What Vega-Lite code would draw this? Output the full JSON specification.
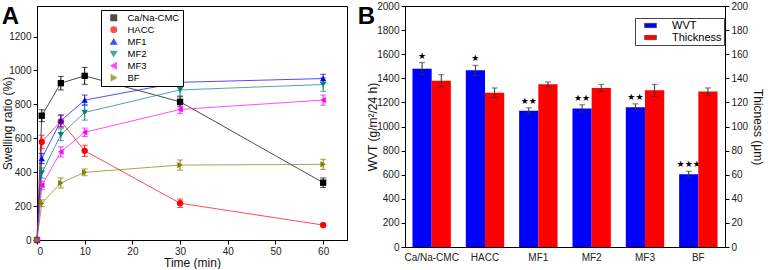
{
  "$schema": "https://vega.github.io/schema/vega-lite/v6.json",
  "padding": {"left": 1, "top": 0, "right": 1, "bottom": 0},
  "spacing": 9,
  "resolve": {"scale": {"color": "independent", "shape": "independent"}, "legend": {"color": "independent", "shape": "independent"}},
  "config": {
    "font": "Liberation Sans",
    "view": {"stroke": "black", "strokeWidth": 1},
    "axis": {"labelFont": "Liberation Sans", "titleFont": "Liberation Sans", "labelFontSize": 10, "titleFontSize": 12, "titleFontWeight": "normal", "labelColor": "#222", "titleColor": "#111", "domainColor": "black", "tickColor": "black", "grid": false, "tickSize": 4, "labelPadding": 2, "labelOverlap": false},
    "axisQuantitative": {"format": "d"},
    "legend": {"labelFont": "Liberation Sans"}
  },
  "datasets": {
    "swell": [
      {"t": 0, "v": 0, "e": 0, "s": "Ca/Na-CMC"},
      {"t": 1, "v": 733, "e": 35, "s": "Ca/Na-CMC"},
      {"t": 5, "v": 925, "e": 40, "s": "Ca/Na-CMC"},
      {"t": 10, "v": 968, "e": 50, "s": "Ca/Na-CMC"},
      {"t": 30, "v": 815, "e": 30, "s": "Ca/Na-CMC"},
      {"t": 60, "v": 338, "e": 28, "s": "Ca/Na-CMC"},
      {"t": 0, "v": 0, "e": 0, "s": "HACC"},
      {"t": 1, "v": 578, "e": 40, "s": "HACC"},
      {"t": 5, "v": 700, "e": 35, "s": "HACC"},
      {"t": 10, "v": 526, "e": 33, "s": "HACC"},
      {"t": 30, "v": 217, "e": 25, "s": "HACC"},
      {"t": 60, "v": 88, "e": 10, "s": "HACC"},
      {"t": 0, "v": 0, "e": 0, "s": "MF1"},
      {"t": 1, "v": 481, "e": 30, "s": "MF1"},
      {"t": 5, "v": 703, "e": 35, "s": "MF1"},
      {"t": 10, "v": 825, "e": 30, "s": "MF1"},
      {"t": 30, "v": 930, "e": 28, "s": "MF1"},
      {"t": 60, "v": 952, "e": 25, "s": "MF1"},
      {"t": 0, "v": 0, "e": 0, "s": "MF2"},
      {"t": 1, "v": 395, "e": 30, "s": "MF2"},
      {"t": 5, "v": 621, "e": 35, "s": "MF2"},
      {"t": 10, "v": 752, "e": 45, "s": "MF2"},
      {"t": 30, "v": 885, "e": 35, "s": "MF2"},
      {"t": 60, "v": 917, "e": 40, "s": "MF2"},
      {"t": 0, "v": 0, "e": 0, "s": "MF3"},
      {"t": 1, "v": 322, "e": 25, "s": "MF3"},
      {"t": 5, "v": 520, "e": 30, "s": "MF3"},
      {"t": 10, "v": 635, "e": 25, "s": "MF3"},
      {"t": 30, "v": 770, "e": 25, "s": "MF3"},
      {"t": 60, "v": 825, "e": 30, "s": "MF3"},
      {"t": 0, "v": 0, "e": 0, "s": "BF"},
      {"t": 1, "v": 217, "e": 20, "s": "BF"},
      {"t": 5, "v": 336, "e": 30, "s": "BF"},
      {"t": 10, "v": 399, "e": 20, "s": "BF"},
      {"t": 30, "v": 442, "e": 30, "s": "BF"},
      {"t": 60, "v": 446, "e": 30, "s": "BF"}
    ],
    "bars": [
      {"sample": "Ca/Na-CMC", "series": "WVT", "value": 1480, "lo": 1430, "hi": 1530, "stars": "★"},
      {"sample": "HACC", "series": "WVT", "value": 1466, "lo": 1422, "hi": 1508, "stars": "★"},
      {"sample": "MF1", "series": "WVT", "value": 1131, "lo": 1107, "hi": 1155, "stars": "★★"},
      {"sample": "MF2", "series": "WVT", "value": 1150, "lo": 1120, "hi": 1180, "stars": "★★"},
      {"sample": "MF3", "series": "WVT", "value": 1160, "lo": 1132, "hi": 1188, "stars": "★★"},
      {"sample": "BF", "series": "WVT", "value": 603, "lo": 580, "hi": 628, "stars": "★★★"},
      {"sample": "Ca/Na-CMC", "series": "Thickness", "value": 138, "lo": 133, "hi": 143},
      {"sample": "HACC", "series": "Thickness", "value": 128, "lo": 124, "hi": 132},
      {"sample": "MF1", "series": "Thickness", "value": 135, "lo": 133, "hi": 137},
      {"sample": "MF2", "series": "Thickness", "value": 132, "lo": 129, "hi": 135},
      {"sample": "MF3", "series": "Thickness", "value": 130, "lo": 125, "hi": 135},
      {"sample": "BF", "series": "Thickness", "value": 129, "lo": 126, "hi": 132}
    ]
  },
  "hconcat": [
    {
      "width": 310,
      "height": 234,
      "title": {"text": "A", "anchor": "start", "frame": "bounds", "fontSize": 24, "fontWeight": "bold", "font": "Liberation Sans", "offset": -23, "dx": 0},
      "data": {"name": "swell"},
      "encoding": {
        "x": {"field": "t", "type": "quantitative", "scale": {"domain": [0, 65], "nice": false}, "axis": {"values": [0, 10, 20, 30, 40, 50, 60], "title": "Time (min)", "labelPadding": 2, "titlePadding": 1}},
        "y": {"field": "v", "type": "quantitative", "scale": {"domain": [0, 1380], "nice": false}, "title": "Swelling ratio (%)", "axis": {"values": [0, 200, 400, 600, 800, 1000, 1200], "titlePadding": -6, "labelOverlap": false}},
        "color": {"field": "s", "type": "nominal", "scale": {"domain": ["Ca/Na-CMC", "HACC", "MF1", "MF2", "MF3", "BF"], "range": ["#000000", "#ff0000", "#0000ff", "#008080", "#ff00ff", "#808000"]}, "legend": {"title": null, "orient": "none", "legendX": 64, "legendY": 4, "strokeColor": "black", "fillColor": "white", "padding": 3, "rowPadding": 1, "clipHeight": 9.5, "symbolSize": 30, "symbolOffset": 5, "labelFontSize": 9.5, "labelOffset": 9, "cornerRadius": 0}},
        "shape": {"field": "s", "type": "nominal", "scale": {"domain": ["Ca/Na-CMC", "HACC", "MF1", "MF2", "MF3", "BF"], "range": ["square", "circle", "triangle-up", "triangle-down", "triangle-left", "triangle-right"]}, "legend": {"title": null, "orient": "none", "legendX": 64, "legendY": 4, "strokeColor": "black", "fillColor": "white", "padding": 3, "rowPadding": 1, "clipHeight": 9.5, "symbolSize": 30, "symbolOffset": 5, "labelFontSize": 9.5, "labelOffset": 9, "cornerRadius": 0}}
      },
      "layer": [
        {
          "mark": {"type": "line", "strokeWidth": 1, "opacity": 0.7},
          "encoding": {"shape": null}
        },
        {
          "mark": {"type": "errorbar", "ticks": {"size": 6}, "thickness": 1},
          "encoding": {"yError": {"field": "e"}, "shape": null}
        },
        {
          "mark": {"type": "point", "filled": true, "size": 40, "opacity": 1},
          "encoding": {}
        }
      ]
    },
    {
      "width": 320,
      "height": 241,
      "title": {"text": "B", "anchor": "start", "frame": "bounds", "fontSize": 24, "fontWeight": "bold", "font": "Liberation Sans", "offset": -28, "dx": -9},
      "data": {"name": "bars"},
      "encoding": {
        "x": {"field": "sample", "type": "nominal", "sort": ["Ca/Na-CMC", "HACC", "MF1", "MF2", "MF3", "BF"], "scale": {"paddingInner": 0.28, "paddingOuter": 0.14}, "axis": {"title": null, "labelAngle": 0, "ticks": false, "labelPadding": 5}},
        "xOffset": {"field": "series", "type": "nominal", "scale": {"domain": ["WVT", "Thickness"]}},
        "color": {"field": "series", "type": "nominal", "scale": {"domain": ["WVT", "Thickness"], "range": ["#0000ff", "#ff0000"]}, "legend": {"title": null, "orient": "none", "legendX": 230, "legendY": 12, "strokeColor": "#444", "fillColor": "white", "padding": 2, "rowPadding": 0, "clipHeight": 11, "symbolType": "M-1.4,-0.5H1.4V0.5H-1.4Z", "symbolSize": 74, "symbolOffset": 8, "symbolStrokeColor": "#333", "symbolStrokeWidth": 0.5, "labelFontSize": 11, "labelOffset": 16}}
      },
      "layer": [
        {
          "transform": [{"filter": "datum.series == 'WVT'"}],
          "layer": [
            {
              "mark": {"type": "bar"},
              "encoding": {
                "y": {"field": "value", "type": "quantitative", "scale": {"domain": [0, 2000], "nice": false}, "title": "WVT (g/m²/24 h)", "axis": {"values": [0, 200, 400, 600, 800, 1000, 1200, 1400, 1600, 1800, 2000], "titlePadding": -3, "labelOverlap": false}}
              }
            },
            {
              "mark": {"type": "errorbar", "ticks": {"size": 6}, "thickness": 1},
              "encoding": {
                "y": {"field": "lo", "type": "quantitative", "title": "WVT (g/m²/24 h)", "axis": {"values": [0, 200, 400, 600, 800, 1000, 1200, 1400, 1600, 1800, 2000], "titlePadding": -3, "labelOverlap": false}},
                "y2": {"field": "hi"},
                "color": {"value": "#333"}
              }
            },
            {
              "mark": {"type": "text", "baseline": "bottom", "dy": -2, "fontSize": 9, "font": "DejaVu Sans"},
              "encoding": {
                "y": {"field": "hi", "type": "quantitative", "title": "WVT (g/m²/24 h)", "axis": {"values": [0, 200, 400, 600, 800, 1000, 1200, 1400, 1600, 1800, 2000], "titlePadding": -3, "labelOverlap": false}},
                "text": {"field": "stars"},
                "color": {"value": "black"}
              }
            }
          ]
        },
        {
          "transform": [{"filter": "datum.series == 'Thickness'"}],
          "layer": [
            {
              "mark": {"type": "bar"},
              "encoding": {
                "y": {"field": "value", "type": "quantitative", "scale": {"domain": [0, 200], "nice": false}, "title": "Thicness (μm)", "axis": {"orient": "right", "values": [0, 20, 40, 60, 80, 100, 120, 140, 160, 180, 200], "titlePadding": 3, "labelOverlap": false}}
              }
            },
            {
              "mark": {"type": "errorbar", "ticks": {"size": 6}, "thickness": 1},
              "encoding": {
                "y": {"field": "lo", "type": "quantitative", "title": "Thicness (μm)", "axis": {"orient": "right", "values": [0, 20, 40, 60, 80, 100, 120, 140, 160, 180, 200], "titlePadding": 3, "labelOverlap": false}},
                "y2": {"field": "hi"},
                "color": {"value": "#333"}
              }
            }
          ]
        }
      ],
      "resolve": {"scale": {"y": "independent"}}
    }
  ]
}
